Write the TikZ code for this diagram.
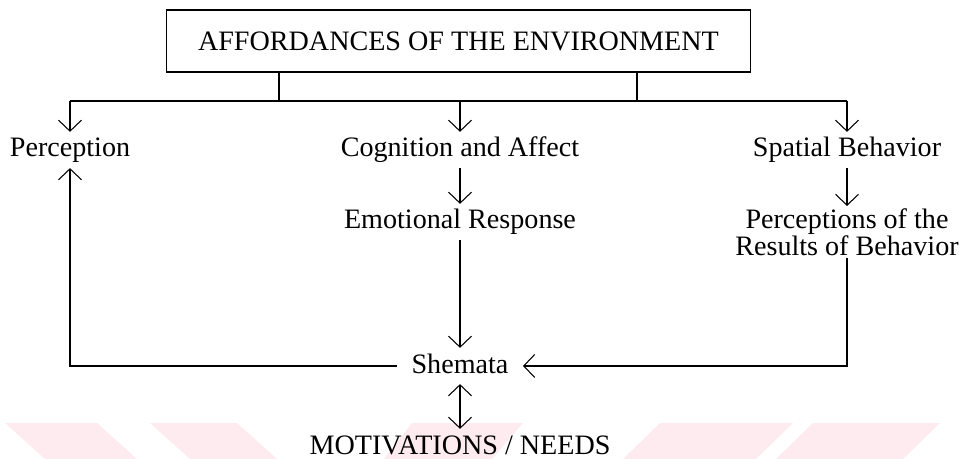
\documentclass[tikz,border=0pt]{standalone}
\usepackage{fontspec}
\setmainfont{Liberation Serif}
\usetikzlibrary{arrows.meta,positioning}
\definecolor{stripe}{RGB}{253,235,239}

\tikzset{
	txt/.style={anchor=base,font=\fontsize{16}{14}\selectfont,inner xsep=8pt,inner ysep=2.5pt,text height=11.5pt,text depth=3.5pt},
	vee/.style={-{Straight Barb[length=2.2mm,width=4.6mm]}},
	veeboth/.style={{Straight Barb[length=2.2mm,width=4.6mm]}-{Straight Barb[length=2.2mm,width=4.6mm]}}
}

\begin{document}
\begin{tikzpicture}[x=0.02cm,y=-0.02cm,semithick]
		\useasboundingbox (0,0) rectangle (963,459);
		% faint band along the bottom
		\fill[stripe] (5,423) -- (97,423) -- (137,459) -- (45,459) -- cycle;
		\fill[stripe] (150,423) -- (237,423) -- (277,459) -- (190,459) -- cycle;
		\fill[stripe] (412,423) -- (523,423) -- (492,459) -- (384,459) -- cycle;
		\fill[stripe] (660,423) -- (793,423) -- (756,459) -- (623,459) -- cycle;
		\fill[stripe] (813,423) -- (940,423) -- (903,459) -- (776,459) -- cycle;

		\node[draw,minimum width=11.7cm,minimum height=1.24cm,font=\fontsize{16}{19}\selectfont] (env) at (458.5,41) {AFFORDANCES OF THE ENVIRONMENT};

		\node[txt] (perc) at (70,157) {Perception};
		\node[txt] (cog) at (460,157) {Cognition and Affect};
		\node[txt] (spat) at (847,157) {Spatial Behavior};
		\node[txt] (emo) at (460,229) {Emotional Response};
		\node[anchor=north,align=center,font=\fontsize{16}{14}\selectfont,inner ysep=1pt] (res) at (847,206) {Perceptions of the\\Results of Behavior};
		\node[txt] (shem) at (460,373) {Shemata};
		\node[txt] (motiv) at (460,454) {MOTIVATIONS / NEEDS};

		\coordinate (jl) at (279,101);
		\coordinate (jr) at (637,101);

		\draw (env.south -| jl) -- (jl);
		\draw (env.south -| jr) -- (jr);
		\draw (perc |- jl) -- (spat |- jl);
		\draw[vee] (perc |- jl) -- (perc);
		\draw[vee] (cog |- jl) -- (cog);
		\draw[vee] (spat |- jl) -- (spat);

		\draw[vee] (cog) -- (emo);
		\draw[vee] (spat) -- (res);
		\draw[vee] (emo) -- (shem);
		\draw[vee] (shem) -| (perc);
		\draw[vee] (res) |- (shem);
		\draw[veeboth] (shem) -- (motiv);
	\end{tikzpicture}
\end{document}
